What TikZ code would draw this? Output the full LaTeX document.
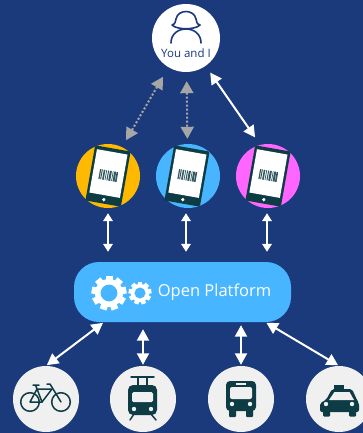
\documentclass[tikz,border=0pt]{standalone}
\usepackage{fontspec}
\setmainfont{Open Sans}
\usetikzlibrary{arrows.meta}
\definecolor{navy}{HTML}{1B3A7C}
\definecolor{sky}{HTML}{47B5FF}
\definecolor{amber}{HTML}{FFB900}
\definecolor{pink}{HTML}{FF66FF}
\definecolor{pale}{HTML}{F0F0F0}
\definecolor{teal}{HTML}{0E3C44}
\definecolor{tipgray}{HTML}{A6A6A6}

\begin{document}
\begin{tikzpicture}[x=1pt,y=-1pt,
    disc/.style={circle,inner sep=0pt,minimum size=#1},
    link/.style={<->,>={Triangle[length=8pt,width=9.5pt]},white,line width=2pt},
    biglink/.style={link,>={Triangle[length=11.5pt,width=12pt]}},
    dotlink/.style={<->,>={Triangle[length=12pt,width=13pt]},tipgray,dash pattern=on 2pt off 2pt,line width=2pt},
    ink/.style={teal,line width=1.5pt,line cap=round,line join=round},
    gear/.pic={
        \foreach \a in {0,40,...,320}
            \fill[white,rotate=\a] (-#1*.2,-#1) rectangle (#1*.2,0);
        \fill[white] (0,0) circle(#1*.8);
        \fill[sky] (0,0) circle(#1*.48);},
    phone/.pic={
        \fill[teal,rounded corners=2pt] (-18,-28) rectangle (18,28);
        \fill[white] (-15.5,-24.5) rectangle (15.5,19.5);
        \fill[white] (0,24) circle(1.8);
        \foreach \b/\w in {-9/1.2,-7.2/1,-5.2/1.6,-2.6/.7,-.8/1,1/2,4/.7,5.4/2,7.8/1.6}
            \fill[teal!85] (\b,-5.5) rectangle (\b+\w,4.5);}]
\useasboundingbox (0,0) rectangle (363,433);
\fill[navy] (0,0) rectangle (363,433);

% top circle
\node[disc=68pt,fill=white] (you) at (186,38) {};
\draw[navy,line width=1.6pt,line cap=round,line join=round]
    (172,25) .. controls (176,24) and (175,21) .. (176,19)
    .. controls (178,9) and (194,9) .. (196,19)
    .. controls (197,21) and (196,24) .. (200,25)
    .. controls (195,30) and (177,30) .. (172,25);
\draw[navy,line width=1.6pt,line cap=round]
    (171,43) .. controls (171,34) and (178,29) .. (186,29)
    .. controls (194,29) and (201,34) .. (201,43);
\node[text=navy,font=\fontsize{11.5}{12}\selectfont,inner sep=0pt] (youtext) at (186,53) {You and I};

% phones
\node[disc=64pt,fill=amber] (phoneA) at (108,176) {};
\node[disc=64pt,fill=sky] (phoneB) at (188,176) {};
\node[disc=64pt,fill=pink] (phoneC) at (268,176) {};
\pic[rotate=-10] at (108,176) {phone};
\pic[rotate=-10] at (187,176) {phone};
\pic[rotate=-10] at (268,176) {phone};

% platform
\node[fill=sky,rounded corners=25pt,minimum width=217pt,minimum height=60pt,inner sep=0pt] (platform) at (182.5,292) {};
\pic at (109,293) {gear=17.5};
\pic at (140,293) {gear=11.5};
\node[text=white,font=\fontsize{16.5}{18}\selectfont,inner sep=0pt] (platformtext) at (214.5,292) {Open Platform};

% bottom row
\node[disc=66pt,fill=pale] (bike) at (46,399) {};
\node[disc=66pt,fill=pale] (train) at (143,399) {};
\node[disc=66pt,fill=pale] (bus) at (241,399) {};
\node[disc=66pt,fill=pale] (taxi) at (339,399) {};

% bike
\draw[ink] (30,402) circle(9.3) (61,402) circle(9.3);
\draw[ink] (30,402) -- (37,389) -- (52,389) -- (42,402) -- cycle;
\draw[ink] (35.5,385) -- (42,402) (33,385) -- (39,385);
\draw[ink] (47,384) -- (50,384) -- (61,402);

% train
\fill[teal,rounded corners=5pt] (128,385) rectangle (157,415);
\fill[pale,rounded corners=1.5pt] (132,392) rectangle (153,402);
\fill[pale] (134,409) circle(2.2) (151,409) circle(2.2);
\draw[ink] (131,377) -- (154,377) (138,377) -- (138,386) (147,377) -- (147,386);
\draw[ink] (134,414) -- (130,420) (151,414) -- (156,420);

% bus
\fill[teal,rounded corners=4pt] (226,381) rectangle (256,411);
\fill[teal,rounded corners=1pt] (229,408) rectangle (236,417) (246,408) rectangle (253,417);
\fill[pale,rounded corners=2pt] (230,387) rectangle (252,399);
\fill[pale] (236,382.5) rectangle (246,384.5);
\fill[pale] (232,404) circle(2.2) (250,404) circle(2.2);

% taxi
\fill[teal,rounded corners=2pt] (320,412) -- (320,403) -- (326,400) -- (332,389) -- (352,389) -- (357,400) -- (359,403) -- (359,412) -- cycle;
\fill[teal] (334,385) rectangle (344,390);
\fill[teal,rounded corners=1pt] (323,410) rectangle (330,416.5) (349,410) rectangle (356,416.5);
\fill[pale] (329,400) -- (334.5,392) -- (349.5,392) -- (354,400) -- cycle;
\fill[pale] (326,404) circle(2.2) (352,404) circle(2.2);

% connectors
\draw[dotlink,shorten <=11pt,shorten >=8pt] (you.-121.6) -- (phoneA.64.7);
\draw[dotlink,shorten <=9pt,shorten >=5pt] (you.-89) -- (phoneB.91.5);
\draw[biglink,shorten <=8pt,shorten >=9pt] (you.-55) -- (phoneC.104);
\draw[link,shorten <=5pt,shorten >=10pt] (phoneA.south) -- (phoneA.south |- platform.north);
\draw[link,shorten <=5pt,shorten >=10pt] ([xshift=-2pt]phoneB.south) -- ([xshift=-2pt]phoneB.south |- platform.north);
\draw[link,shorten <=5pt,shorten >=10pt] ([xshift=-1pt]phoneC.south) -- ([xshift=-1pt]phoneC.south |- platform.north);
\draw[biglink,shorten <=1pt,shorten >=1pt] (platform.-159.4) -- (bike.north);
\draw[biglink,shorten <=7pt,shorten >=1pt] (train.north |- platform.south) -- (train.north);
\draw[biglink,shorten <=3pt,shorten >=1pt] (bus.north |- platform.south) -- (bus.north);
\draw[biglink,shorten <=1pt,shorten >=1pt] (platform.-20.2) -- (taxi.north);
\end{tikzpicture}
\end{document}
